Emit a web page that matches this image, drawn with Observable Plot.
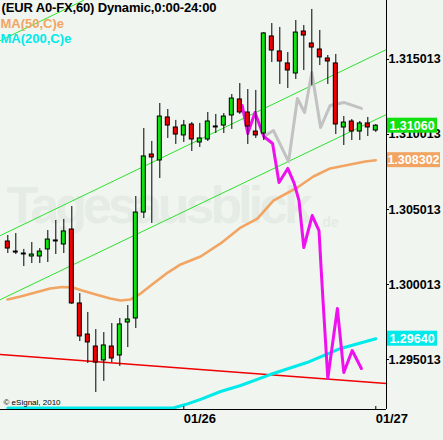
<!DOCTYPE html>
<html><head><meta charset="utf-8">
<script src="https://cdn.jsdelivr.net/npm/d3@7"></script>
<script src="https://cdn.jsdelivr.net/npm/@observablehq/plot@0.6"></script>
<style>
html,body{margin:0;padding:0;background:#f0f5f0;}
#chart svg{display:block;}
[aria-label="title"], [aria-label="title"] text{letter-spacing:-0.15px;}
[aria-label="watermark"], [aria-label="watermark"] text{letter-spacing:-4px;}
g[aria-label="y-axis tick label"] text{font-size:12.5px;font-weight:bold;fill:#000;}
g[aria-label="x-axis tick label"] text{font-size:13px;font-weight:bold;fill:#000;letter-spacing:-0.1px;}
</style></head><body><div id="chart"></div>
<script>
// ---- data ----
const titleText = "(EUR A0-FX,60) Dynamic,0:00-24:00";
const legendLabels = ["MA(50,C)e", "MA(200,C)e"];
const copyright = "© eSignal, 2010";
const watermark = "Tagesausblick";

const opens  = [1.30288,1.30221,1.30208,1.30188,1.30188,1.30235,1.30295,1.30268,1.30368,1.29875,1.29668,1.29588,1.29495,1.29588,1.29528,1.29748,1.29775,1.30481,1.30868,1.30828,1.31115,1.31048,1.30995,1.31068,1.30948,1.30968,1.31055,1.31061,1.31128,1.31235,1.31148,1.31021,1.31008,1.31655,1.31555,1.31475,1.31408,1.31688,1.31608,1.31568,1.31508,1.31475,1.31048,1.31088,1.31021,1.31075,1.31028];
const highs  = [1.30328,1.30341,1.30235,1.30281,1.30241,1.30361,1.30428,1.30435,1.30521,1.29941,1.29815,1.29701,1.29681,1.29741,1.29775,1.29861,1.30588,1.31041,1.30955,1.31208,1.31168,1.31095,1.31095,1.31081,1.31075,1.31148,1.31135,1.31141,1.31268,1.31341,1.31301,1.31295,1.31681,1.31741,1.31715,1.31548,1.31761,1.31728,1.31835,1.31695,1.31528,1.31535,1.31121,1.31101,1.31088,1.31115,1.31068];
const lows   = [1.30208,1.30201,1.30121,1.30141,1.30141,1.30148,1.30201,1.30208,1.29868,1.29621,1.29475,1.29281,1.29355,1.29481,1.29455,1.29581,1.29708,1.30441,1.30408,1.30708,1.30975,1.30935,1.30948,1.30888,1.30915,1.30955,1.31008,1.31008,1.31035,1.31135,1.30935,1.30975,1.30961,1.31481,1.31335,1.31308,1.31368,1.31428,1.31328,1.31461,1.31335,1.31001,1.30928,1.30961,1.30961,1.30988,1.31015];
const closes = [1.30241,1.30221,1.30208,1.30201,1.30221,1.30301,1.30295,1.30355,1.29875,1.29655,1.29615,1.29481,1.29595,1.29508,1.29735,1.29768,1.30481,1.30855,1.30848,1.31121,1.31061,1.31001,1.31061,1.30968,1.30975,1.31088,1.31055,1.31121,1.31241,1.31148,1.31055,1.30995,1.31675,1.31561,1.31488,1.31428,1.31681,1.31661,1.31581,1.31515,1.31488,1.31068,1.31081,1.31021,1.31075,1.31048,1.31060];

// hourly bar index (0 = first bar, 22 = 01/26 00:00, 46 = 01/27 00:00)
const ma50K  = [-0.04,1.6,3.45,5.3,6.8,8.1,9.3,11.0,12.8,14.1,15.3,16.6,18.2,20.0,21.6,24.1,26.6,29.1,31.2,33.2,36.2,38.2,40.3,42.8,44.7,46.0];
const ma50P  = [1.29901,1.29921,1.29948,1.29975,1.29985,1.29981,1.29961,1.29935,1.29908,1.29895,1.29901,1.29941,1.30008,1.30081,1.30135,1.30188,1.30275,1.30381,1.30441,1.30561,1.30648,1.30721,1.30775,1.30801,1.30821,1.30830];
const ma200K = [0,20.7,22.2,24.1,26.6,29.1,32.8,37.4,41.6,46.0];
const ma200P = [1.29178,1.29178,1.29201,1.29235,1.29288,1.29328,1.29401,1.29481,1.29575,1.29640];
const magentaK = [29.3,30.0,30.9,32.0,33.1,33.9,35.0,35.8,36.4,37.0,38.05,38.9,39.2,39.5,40.0,41.2,42.0,43.05,44.2];
const magentaP = [1.31195,1.31008,1.31148,1.30988,1.30941,1.30681,1.30775,1.30675,1.30561,1.30248,1.30461,1.30361,1.30075,1.29808,1.29375,1.29841,1.29415,1.29561,1.29441];
const grayK = [32.2,33.2,35.1,36.2,37.1,38.0,39.1,40.3,42.0,44.2];
const grayP = [1.30995,1.31028,1.30821,1.31241,1.31148,1.31415,1.31048,1.31195,1.31215,1.31175];

const trendK = [-0.9125, 47.3375];
const redTrendP = [1.29535, 1.29341];
const chanUpperP = [1.30328, 1.31568];
const chanLowerP = [1.29901, 1.31135];
const chanTopK = [-0.9125, 9.46];
const chanTopP = [1.31628, 1.31895];

const yTicks = [1.295013, 1.300013, 1.305013, 1.310013, 1.315013];
const xTicks = [22, 46];
const xTickLabels = ["01/26", "01/27"];

const tagValues = [1.31060, 1.308302, 1.29640];
const tagLabels = ["1.31060", "1.308302", "1.29640"];

const xDomain = [-0.9125, 47.3375];
const yDomain = [1.29168, 1.318946];

// ---- styles ----
const GREEN = "#10e010", RED = "#f00000", ORANGE = "#f2a563", CYAN = "#00eaea",
      MAGENTA = "#ee10ee", GRAY = "#c2c2c2", CHAN = "#2ee02e", WM = "#e5ebe5";
const tagColors = [GREEN, ORANGE, CYAN];

const candles = opens.map((o, i) => ({k: i, open: o, high: highs[i], low: lows[i], close: closes[i]}));
const bodies = candles.filter(d => d.open !== d.close);
const dojis = candles.filter(d => d.open === d.close);
const HALF = 0.25;
const pts = (ks, ps) => ks.map((k, i) => ({k, p: ps[i]}));

function priceTags(index, scales, values, dimensions) {
  const g = d3.create("svg:g");
  const x0 = dimensions.width - dimensions.marginRight + 1;
  tagValues.forEach((v, i) => {
    const y = scales.y(v);
    const w = tagLabels[i].length > 7 ? 53 : 50;
    g.append("rect").attr("x", x0).attr("y", y - 7.5).attr("width", w).attr("height", 15).attr("fill", tagColors[i]);
    g.append("text").attr("x", x0 + w / 2).attr("y", y).attr("dy", "0.36em")
      .attr("text-anchor", "middle").attr("fill", "white").attr("font-weight", "bold")
      .attr("font-size", 12.5).text(tagLabels[i]);
  });
  return g.node();
}

const chart = Plot.plot({
  width: 443, height: 440,
  marginLeft: 0, marginTop: 0, marginRight: 57, marginBottom: 31,
  x: {domain: xDomain, axis: null},
  y: {domain: yDomain, axis: null},
  style: {background: "#f0f5f0", fontFamily: "'Liberation Sans', Arial, sans-serif", overflow: "visible"},
  marks: [
    Plot.text([watermark], {ariaLabel: () => "watermark", frameAnchor: "top-left", text: d => d, dx: 6, dy: 206, lineAnchor: "middle",
      fontSize: 52, fontWeight: "bold", fill: WM}),
    Plot.text(["de"], {frameAnchor: "top-left", text: d => d, dx: 322, dy: 222, lineAnchor: "middle",
      fontSize: 14, fontWeight: "bold", fill: WM}),
    Plot.line(pts(trendK, redTrendP), {x: "k", y: "p", stroke: RED, strokeWidth: 1.5}),
    Plot.line(pts(ma200K, ma200P), {x: "k", y: "p", stroke: CYAN, strokeWidth: 3}),
    Plot.line(pts(ma50K, ma50P), {x: "k", y: "p", stroke: ORANGE, strokeWidth: 2.6}),
    Plot.line(pts(trendK, chanUpperP), {x: "k", y: "p", stroke: CHAN, strokeWidth: 1}),
    Plot.line(pts(trendK, chanLowerP), {x: "k", y: "p", stroke: CHAN, strokeWidth: 1}),
    Plot.line(pts(chanTopK, chanTopP), {x: "k", y: "p", stroke: CHAN, strokeWidth: 1}),
    Plot.line(pts(grayK, grayP), {x: "k", y: "p", stroke: GRAY, strokeWidth: 3}),
    Plot.line(pts(magentaK, magentaP), {x: "k", y: "p", stroke: MAGENTA, strokeWidth: 3}),
    Plot.ruleX(candles, {x: "k", y1: "low", y2: "high", stroke: "black", strokeWidth: 1}),
    Plot.rect(bodies, {x1: d => d.k - HALF, x2: d => d.k + HALF, y1: "open", y2: "close",
      fill: d => d.close > d.open ? GREEN : RED, stroke: "black", strokeWidth: 1}),
    Plot.ruleY(dojis, {y: "open", x1: d => d.k - HALF - 0.06, x2: d => d.k + HALF + 0.06, stroke: "black", strokeWidth: 2}),
    Plot.ruleY([yDomain[0]], {stroke: "black"}),
    Plot.ruleX([xDomain[1]], {stroke: "black"}),
    Plot.tickX(xTicks, {x: d => d, insetTop: 406, stroke: "black"}),
    Plot.axisX({anchor: "bottom", ticks: xTicks, tickFormat: d => xTickLabels[xTicks.indexOf(d)],
      tickSize: 0, tickPadding: 4, textAnchor: "start", label: null}),
    Plot.axisY({anchor: "right", ticks: yTicks, tickFormat: d => d.toFixed(6),
      tickSize: 2, tickPadding: 0, label: null}),
    Plot.text([titleText], {ariaLabel: () => "title", frameAnchor: "top-left", text: d => d, dx: 1, dy: 7.8,
      lineAnchor: "middle", fontSize: 13, fontWeight: "bold", fill: "black"}),
    Plot.text([legendLabels[0]], {frameAnchor: "top-left", text: d => d, dx: 0, dy: 23.3,
      lineAnchor: "middle", fontSize: 13, fontWeight: "bold", fill: ORANGE}),
    Plot.text([legendLabels[1]], {frameAnchor: "top-left", text: d => d, dx: 0, dy: 38.8,
      lineAnchor: "middle", fontSize: 13, fontWeight: "bold", fill: CYAN}),
    Plot.text([copyright], {frameAnchor: "bottom-left", text: d => d, dx: 3, dy: -6.6,
      lineAnchor: "middle", fontSize: 8, fill: "black"}),
    priceTags
  ]
});
document.getElementById("chart").appendChild(chart);
</script></body></html>
